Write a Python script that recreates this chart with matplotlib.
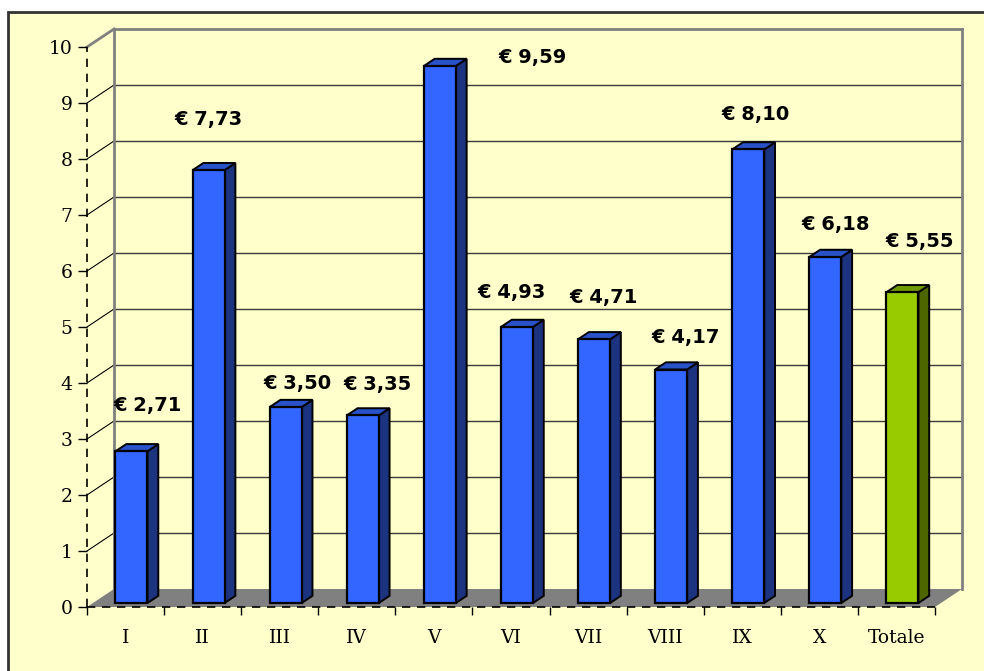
import matplotlib
matplotlib.use("Agg")
import matplotlib.pyplot as plt
from matplotlib.patches import Polygon, Rectangle
from matplotlib.lines import Line2D

# data
categories = ["I", "II", "III", "IV", "V", "VI", "VII", "VIII", "IX", "X", "Totale"]
values = [2.71, 7.73, 3.50, 3.35, 9.59, 4.93, 4.71, 4.17, 8.10, 6.18, 5.55]
value_labels = ["€ 2,71", "€ 7,73", "€ 3,50", "€ 3,35", "€ 9,59", "€ 4,93",
                "€ 4,71", "€ 4,17", "€ 8,10", "€ 6,18", "€ 5,55"]
y_ticks = list(range(0, 11))

# label nudges (pixels, relative to bar top)
label_dx = [16, 0, 12, 15, 93, -5, 10, 14, 7, 10, 17]
label_dy = [46, 51, 24, 31, 9, 34, 42, 32, 35, 32, 51]

BG = "#FFFFCC"
BLUE = ("#3366FF", "#2A52C8", "#1C3380")   # front, top, side
GREEN = ("#99CC00", "#6E9900", "#4D6600")

W, H = 984, 671
fig = plt.figure(figsize=(W / 100, H / 100), dpi=100)
fig.patch.set_facecolor("white")

# outer chart frame
fig.add_artist(Rectangle((8 / W, -0.01), 1.0, (H - 12) / H + 0.01,
                         transform=fig.transFigure, facecolor=BG,
                         edgecolor="#333333", linewidth=2, zorder=-5))

x0, x1, y0, y1 = 87, 935, 607, 47
ax = fig.add_axes([x0 / W, (H - y0) / H, (x1 - x0) / W, (y0 - y1) / H])
ax.set_zorder(1)
ax.set_facecolor("none")
n = len(categories)
ax.set_xlim(-0.5, n - 0.5)
ax.set_ylim(0, 10)
for s in ax.spines.values():
    s.set_visible(False)

px_x = (x1 - x0) / n       # pixels per category
px_y = (y0 - y1) / 10.0    # pixels per unit
DX = 27 / px_x             # depth offset in data units
DY = 18 / px_y


def depth(t):
    return DX * t, DY * t


# back wall + side wall gridlines
for v in y_ticks[1:]:
    if v == 10:
        col, lw, dcol, dlw = "#808080", 2, "#808080", 2
    else:
        col, lw, dcol, dlw = "#3a3a3a", 1.0, "black", 0.8
    ax.add_line(Line2D([-0.5, -0.5 + DX], [v, v + DY], color=dcol, lw=dlw,
                       clip_on=False, zorder=1))
    ax.add_line(Line2D([-0.5 + DX, n - 0.5 + DX], [v + DY, v + DY], color=col,
                       lw=lw, clip_on=False, zorder=1))
ax.add_line(Line2D([-0.5 + DX] * 2, [DY, 10 + DY], color="#808080", lw=2,
                   clip_on=False, zorder=1))
ax.add_line(Line2D([n - 0.5 + DX] * 2, [DY, 10 + DY], color="#808080", lw=2,
                   clip_on=False, zorder=1))

# floor
ax.add_patch(Polygon([(-0.5, 0), (n - 0.5, 0), (n - 0.5 + DX, DY), (-0.5 + DX, DY)],
                     closed=True, facecolor="#808080", edgecolor="none",
                     clip_on=False, zorder=2))

# bars
bw = 32 / px_x
t0, t1 = 0.22, 0.62
for i, v in enumerate(values):
    front, top, side = GREEN if categories[i] == "Totale" else BLUE
    fx, fy = depth(t0)
    bx, by = depth(t1)
    l = i - bw / 2 + fx
    r = i + bw / 2 + fx
    b = fy
    tp = v + fy
    z = 3 + i * 0.01
    ax.add_patch(Polygon([(r, b), (r + bx - fx, b + by - fy), (r + bx - fx, tp + by - fy), (r, tp)],
                         facecolor=side, edgecolor="black", lw=1.4, zorder=z, clip_on=False))
    ax.add_patch(Polygon([(l, tp), (r, tp), (r + bx - fx, tp + by - fy), (l + bx - fx, tp + by - fy)],
                         facecolor=top, edgecolor="black", lw=1.4, zorder=z, clip_on=False))
    ax.add_patch(Rectangle((l, b), r - l, tp - b, facecolor=front, edgecolor="black",
                           lw=1.6, zorder=z + 0.001, clip_on=False))
    ax.annotate(value_labels[i], xy=(i + fx, tp), xytext=(label_dx[i] * 0.72, label_dy[i] * 0.72),
                textcoords="offset points", ha="center", va="center",
                fontsize=14, fontweight="bold", family="DejaVu Sans",
                color="black", zorder=10, annotation_clip=False)

# front dashed axes
ax.add_line(Line2D([-0.5, -0.5], [0, 10], color="black", lw=1.2, ls=(0, (5, 4)),
                   clip_on=False, zorder=6))
ax.add_line(Line2D([-0.5, n - 0.5], [0, 0], color="black", lw=1.2, ls=(0, (5, 4)),
                   clip_on=False, zorder=6))

# ticks
ax.set_yticks(y_ticks)
ax.set_yticklabels([str(t) for t in y_ticks])
ax.tick_params(axis="y", length=6.5, width=1, pad=4, labelsize=13.5, color="black")
ax.set_xticks([i - 0.5 for i in range(n + 1)])
ax.set_xticklabels([])
ax.set_xticks(range(n), minor=True)
ax.set_xticklabels(categories, minor=True)
ax.tick_params(axis="x", which="major", length=6, width=1, color="black")
ax.tick_params(axis="x", which="minor", length=0, pad=16, labelsize=13.5)
for lab in ax.get_xticklabels(minor=True) + ax.get_yticklabels():
    lab.set_family("DejaVu Serif")

fig.savefig("out.png", dpi=100, facecolor=fig.get_facecolor())
